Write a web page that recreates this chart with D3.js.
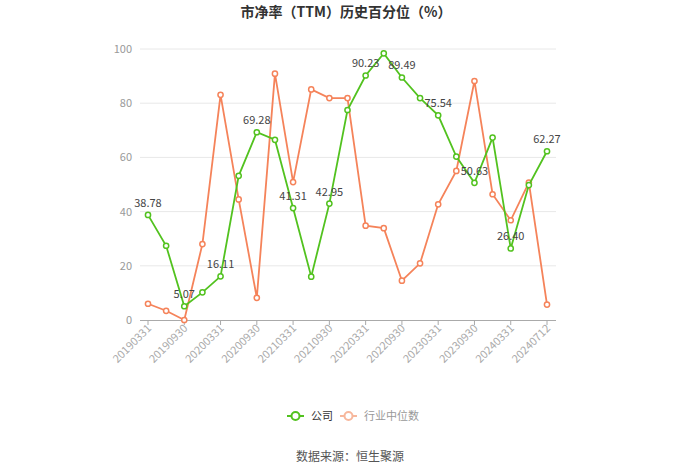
<!DOCTYPE html>
<html><head><meta charset="utf-8">
<script src="https://cdn.jsdelivr.net/npm/d3@7"></script>
<style>body{margin:0;background:#fff;}svg{display:block;font-family:"Noto Sans CJK SC","Noto Sans",sans-serif;}</style>
</head><body>
<svg id="c" width="700" height="474"></svg>
<script>
const dates = ["20190331","20190630","20190930","20191231","20200331","20200630","20200930","20201231","20210331","20210630","20210930","20211231","20220331","20220630","20220930","20221231","20230331","20230630","20230930","20231231","20240331","20240630","20240712"];
const company = [38.78,27.4,5.07,10.2,16.11,53.2,69.28,66.5,41.31,16.0,42.95,77.5,90.23,98.4,89.49,81.9,75.54,60.3,50.63,67.3,26.40,49.8,62.27];
const industry = [6.0,3.4,0,28.0,83.1,44.5,8.2,90.9,50.9,85.1,81.9,81.9,34.8,33.9,14.5,20.9,42.7,55.0,88.2,46.4,36.8,50.7,5.7];
const labelIdx = [0,2,4,6,8,10,12,14,16,18,20,22];
const yTicks = [0,20,40,60,80,100];
const seriesNames = ["公司","行业中位数"];
const colors = ["#52c21f","#f5835a"];

const svg = d3.select("#c");
const x = d3.scalePoint().domain(dates).range([148,547]);
const y = d3.scaleLinear().domain([0,100]).range([320,49]);

svg.append("text").attr("x",346).attr("y",17).attr("text-anchor","middle")
  .attr("font-size",14).attr("font-weight","bold").attr("fill","#333").text("市净率（TTM）历史百分位（%）");

// grid
svg.append("g").selectAll("line").data(yTicks.filter(d=>d>0)).join("line")
  .attr("x1",140).attr("x2",556).attr("y1",d=>y(d)).attr("y2",d=>y(d))
  .attr("stroke","#e8e8e8").attr("stroke-width",1);
// y labels
svg.append("g").selectAll("text").data(yTicks).join("text")
  .attr("x",132).attr("y",d=>y(d)+4).attr("text-anchor","end")
  .attr("font-size",11).attr("fill","#999").text(d=>d);
// x axis
svg.append("line").attr("x1",140).attr("x2",556).attr("y1",320.5).attr("y2",320.5).attr("stroke","#aaa");
const tickDates = labelIdx.map(i=>dates[i]);
svg.append("g").selectAll("line").data(tickDates).join("line")
  .attr("x1",d=>x(d)).attr("x2",d=>x(d)).attr("y1",320).attr("y2",325).attr("stroke","#aaa");
svg.append("g").selectAll("text").data(tickDates).join("text")
  .attr("transform",d=>`translate(${x(d)+4},${329}) rotate(-45)`)
  .attr("text-anchor","end").attr("font-size",11).attr("fill","#aaa").text(d=>d);

const line = d3.line().x((d,i)=>x(dates[i])).y(d=>y(d));
[industry, company].forEach((s,k)=>{
  const c = k===0?colors[1]:colors[0];
  svg.append("path").datum(s).attr("d",line).attr("fill","none").attr("stroke",c).attr("stroke-width",1.8);
  svg.append("g").selectAll("circle").data(s).join("circle")
    .attr("cx",(d,i)=>x(dates[i])).attr("cy",d=>y(d)).attr("r",2.6)
    .attr("fill","#fff").attr("stroke",c).attr("stroke-width",1.5);
});
// labels
svg.append("g").selectAll("text").data(labelIdx).join("text")
  .attr("x",i=>x(dates[i])).attr("y",i=>y(company[i])-8).attr("text-anchor","middle")
  .attr("font-size",11).attr("fill","#444").text(i=>company[i].toFixed(2));

// legend
const lg = svg.append("g");
const items = [{n:seriesNames[0],c:colors[0],x:287,tc:"#333"},{n:seriesNames[1],c:"#f7b79c",x:340,tc:"#999"}];
items.forEach(it=>{
  lg.append("line").attr("x1",it.x).attr("x2",it.x+17).attr("y1",416).attr("y2",416).attr("stroke",it.c).attr("stroke-width",2);
  lg.append("circle").attr("cx",it.x+8.5).attr("cy",416).attr("r",4).attr("fill","#fff").attr("stroke",it.c).attr("stroke-width",2);
  lg.append("text").attr("x",it.x+24).attr("y",420).attr("font-size",11).attr("fill",it.tc).text(it.n);
});
svg.append("text").attr("x",350).attr("y",461).attr("text-anchor","middle").attr("font-size",12).attr("fill","#555").text("数据来源：恒生聚源");
</script>
</body></html>
